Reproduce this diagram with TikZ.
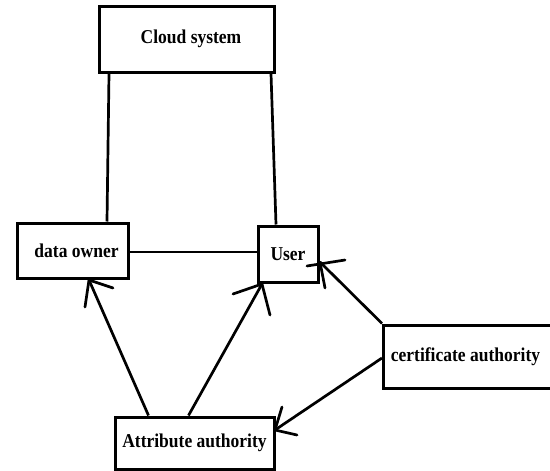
\documentclass[tikz,border=0pt]{standalone}
\usepackage{fontspec}
\setmainfont{Liberation Serif}
\begin{document}
\begin{tikzpicture}[x=1pt,y=-1pt,
  box/.style={draw,line width=3pt,inner sep=0pt,font=\fontsize{17.5}{19}\selectfont\bfseries},
  conn/.style={line width=2.7pt},
  barb/.style={line width=2.7pt,line cap=round}]
\newcommand{\lbl}[1]{\scalebox{1}[1.12]{#1}}
\useasboundingbox[fill=white] (0,0) rectangle (550,471);
\node[box,minimum width=175pt,minimum height=66pt] (cloud) at (187,39) {\hspace*{8pt}\lbl{Cloud system}};
\node[box,minimum width=111pt,minimum height=55pt] (owner) at (72.5,250.5) {\hspace*{8pt}\lbl{data owner}};
\node[box,minimum width=60pt,minimum height=56pt] (user) at (288,254) {\lbl{User}};
\node[box,minimum width=159pt,minimum height=52pt] (attr) at (194.5,443) {\lbl{Attribute authority}};
\node[box,minimum width=170pt,minimum height=63pt,anchor=west] (cert) at (382,356.5) {\hspace*{-6pt}\lbl{certificate authority}};
% cloud links
\draw[conn] ([xshift=11pt]cloud.south west) -- ([xshift=34.5pt]owner.north);
\draw[conn] ([xshift=-5pt]cloud.south east) -- ([xshift=-12pt]user.north);
\draw[conn] (owner.east |- 0,252) -- (user.west |- 0,252);
% arrow tips
\coordinate (t1) at (89,280);
\coordinate (t2) at (262,284);
\coordinate (t3) at (320,262);
\coordinate (t4) at (275,430);
% shafts
\draw[conn] ([xshift=35pt]attr.north west) -- (t1);
\draw[conn] ([xshift=75pt]attr.north west) -- (t2);
\draw[conn] (cert.north west) -- (t3);
\draw[conn] ([yshift=-1.5pt]cert.west) -- (t4);
% heads
\draw[barb] (85,307) -- (t1) -- (113,288);
\draw[barb] (233,294) -- (t2) -- (270,315);
\draw[barb] (307,266) -- (345,260);
\draw[barb] (t3) -- (325,288);
\draw[barb] (282,407) -- (t4) -- (297,435);
\end{tikzpicture}
\end{document}
